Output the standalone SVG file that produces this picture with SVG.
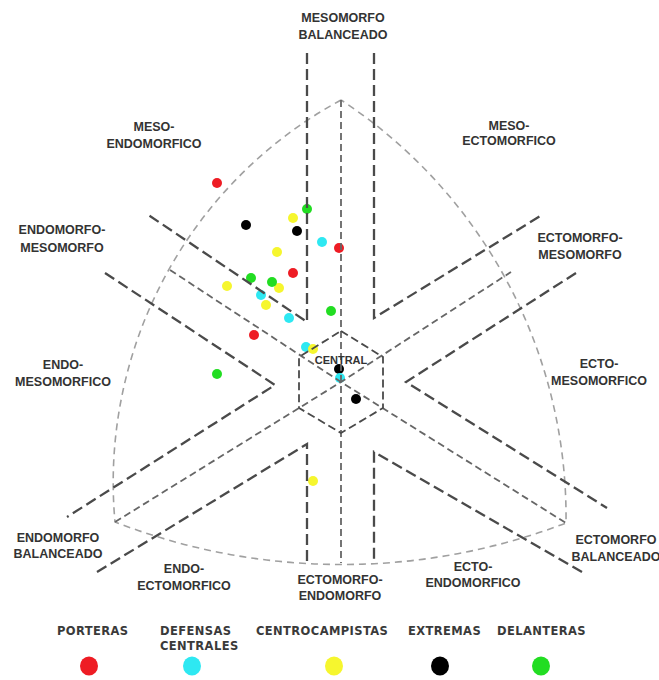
<svg xmlns="http://www.w3.org/2000/svg" width="659" height="680" viewBox="0 0 659 680">
<style>
.edge{fill:none;stroke:#4a4a4a;stroke-width:2.3;stroke-dasharray:11 5;}
.mid{fill:none;stroke:#666;stroke-width:1.8;stroke-dasharray:7 4;}
.hex{fill:none;stroke:#4a4a4a;stroke-width:1.8;stroke-dasharray:8 4;}
.arc{fill:none;stroke:#a0a0a0;stroke-width:1.6;stroke-dasharray:7 5;}
.lbl{font-family:"Liberation Sans",Arial,sans-serif;font-weight:bold;font-size:12.5px;fill:#333;text-anchor:middle;}
.leg{font-family:"DejaVu Sans",Verdana,sans-serif;font-weight:bold;font-size:11.5px;fill:#3a3a3a;letter-spacing:0.4px;}
.r{fill:#ee1c24}.c{fill:#2ee8f2}.y{fill:#f6f62e}.k{fill:#000}.g{fill:#22dd22}
</style>
<rect width="659" height="680" fill="#fff"/>
<g id="points">
<circle class="r" cx="217" cy="183" r="5"/>
<circle class="k" cx="246" cy="225" r="5"/>
<circle class="y" cx="293" cy="218" r="5"/>
<circle class="g" cx="307" cy="209" r="5"/>
<circle class="k" cx="297" cy="231" r="5"/>
<circle class="c" cx="322" cy="242" r="5"/>
<circle class="r" cx="339" cy="248" r="5"/>
<circle class="y" cx="277" cy="252" r="5"/>
<circle class="r" cx="293" cy="273" r="5"/>
<circle class="g" cx="251" cy="278" r="5"/>
<circle class="y" cx="227" cy="286" r="5"/>
<circle class="y" cx="279" cy="288" r="5"/>
<circle class="g" cx="272" cy="282" r="5"/>
<circle class="c" cx="261" cy="295" r="5"/>
<circle class="y" cx="266" cy="305" r="5"/>
<circle class="c" cx="289" cy="318" r="5"/>
<circle class="g" cx="331" cy="311" r="5"/>
<circle class="r" cx="254" cy="335" r="5"/>
<circle class="c" cx="306" cy="347" r="5"/>
<circle class="y" cx="313" cy="349" r="5"/>
<circle class="k" cx="339" cy="369" r="5"/>
<circle class="c" cx="340" cy="378" r="5"/>
<circle class="k" cx="356" cy="399" r="5"/>
<circle class="g" cx="217" cy="374" r="5"/>
<circle class="y" cx="313" cy="481" r="5"/>
</g>
<g id="connectors">
<path class="arc" d="M341,100 A435,435 0 0 0 115,522 A626,626 0 0 0 566,523 A498,498 0 0 0 341,100"/>
<polyline class="edge" points="307,53 307,322 147,214"/>
<polyline class="edge" points="374,53 374,318 542,215"/>
<polyline class="edge" points="105,273 275,385 67,517"/>
<polyline class="edge" points="576,273 406,382 607,508"/>
<polyline class="edge" points="97,572 307,444 307,563"/>
<polyline class="edge" points="582,572 374,452 374,563"/>
<line class="mid" x1="341" y1="100" x2="341" y2="563"/>
<polyline class="mid" points="170,270 341,382 566,523"/>
<polyline class="mid" points="115,522 341,382 511,272"/>
<polygon class="hex" points="341,331 383,357 383,408 341,433 299,408 299,357"/>
</g>
<g id="labels">
<text class="lbl" x="343" y="22">MESOMORFO</text>
<text class="lbl" x="343" y="39">BALANCEADO</text>
<text class="lbl" x="154" y="131">MESO-</text>
<text class="lbl" x="154" y="148">ENDOMORFICO</text>
<text class="lbl" x="509" y="130">MESO-</text>
<text class="lbl" x="509" y="145">ECTOMORFICO</text>
<text class="lbl" x="62" y="234">ENDOMORFO-</text>
<text class="lbl" x="62" y="252">MESOMORFO</text>
<text class="lbl" x="580" y="242">ECTOMORFO-</text>
<text class="lbl" x="580" y="259">MESOMORFO</text>
<text class="lbl" x="63" y="369">ENDO-</text>
<text class="lbl" x="63" y="386">MESOMORFICO</text>
<text class="lbl" x="599" y="368">ECTO-</text>
<text class="lbl" x="599" y="385">MESOMORFICO</text>
<text class="lbl" x="58" y="542">ENDOMORFO</text>
<text class="lbl" x="58" y="558">BALANCEADO</text>
<text class="lbl" x="616" y="544">ECTOMORFO</text>
<text class="lbl" x="616" y="561">BALANCEADO</text>
<text class="lbl" x="184" y="573">ENDO-</text>
<text class="lbl" x="184" y="590">ECTOMORFICO</text>
<text class="lbl" x="473" y="571">ECTO-</text>
<text class="lbl" x="473" y="587">ENDOMORFICO</text>
<text class="lbl" x="340" y="584">ECTOMORFO-</text>
<text class="lbl" x="340" y="600">ENDOMORFO</text>
<text class="lbl" x="341" y="364" style="font-size:11px">CENTRAL</text>
</g>
<g id="legend">
<text class="leg" x="57" y="635">PORTERAS</text>
<text class="leg" x="160" y="635">DEFENSAS</text>
<text class="leg" x="160" y="650">CENTRALES</text>
<text class="leg" x="256" y="635">CENTROCAMPISTAS</text>
<text class="leg" x="408" y="635">EXTREMAS</text>
<text class="leg" x="497" y="635">DELANTERAS</text>
<ellipse class="r" cx="89" cy="666" rx="9" ry="9.5"/>
<ellipse class="c" cx="192" cy="666" rx="9" ry="9.5"/>
<ellipse class="y" cx="334" cy="666" rx="9" ry="9.5"/>
<ellipse class="k" cx="440" cy="666" rx="9" ry="9.5"/>
<ellipse class="g" cx="541" cy="666" rx="9" ry="9.5"/>
</g>
</svg>
